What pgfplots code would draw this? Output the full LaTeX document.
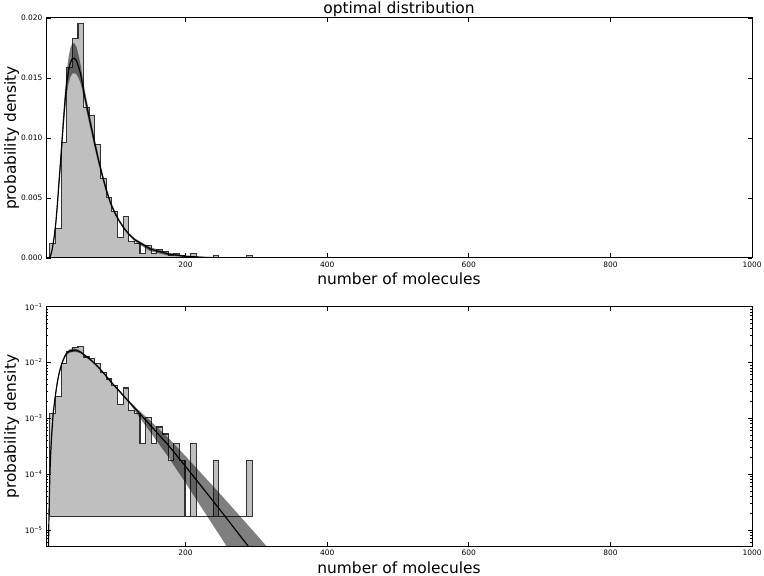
\documentclass[border=0pt]{standalone}
\usepackage{fontspec}
\setmainfont{DejaVu Sans}
\usepackage{pgfplots}
\pgfplotsset{compat=1.18}
\usepackage{pgfplotstable}
\definecolor{histgray}{HTML}{BFBFBF}

% histogram: left edges and densities (linear axis / log axis with bottom 1.745e-5)
\pgfplotstableread{
x lin lg
8.5 0 1.745e-5
8.5 1.2215e-3 1.2215e-3
16.45 2.443e-3 2.443e-3
24.4 9.5975e-3 9.5975e-3
32.35 1.58795e-2 1.58795e-2
40.3 1.83225e-2 1.83225e-2
48.25 1.9544e-2 1.9544e-2
56.2 1.2564e-2 1.2564e-2
64.15 1.1866e-2 1.1866e-2
72.1 9.423e-3 9.423e-3
80.05 6.631e-3 6.631e-3
88.0 5.0605e-3 5.0605e-3
95.95 3.839e-3 3.839e-3
103.9 1.745e-3 1.745e-3
111.85 3.49e-3 3.49e-3
119.8 1.396e-3 1.396e-3
127.75 1.2215e-3 1.2215e-3
135.7 3.49e-4 3.49e-4
143.65 1.047e-3 1.047e-3
151.6 3.49e-4 3.49e-4
159.55 6.98e-4 6.98e-4
167.5 5.235e-4 5.235e-4
175.45 1.745e-4 1.745e-4
183.4 3.49e-4 3.49e-4
191.35 1.745e-4 1.745e-4
199.3 0 1.745e-5
207.25 3.49e-4 3.49e-4
215.2 0 1.745e-5
223.15 0 1.745e-5
231.1 0 1.745e-5
239.05 1.745e-4 1.745e-4
247.0 0 1.745e-5
254.95 0 1.745e-5
262.9 0 1.745e-5
270.85 0 1.745e-5
278.8 0 1.745e-5
286.75 1.745e-4 1.745e-4
294.7 1.745e-4 1.745e-4
294.7 0 1.745e-5
}\hist

% fitted density
\pgfplotstableread{
x y
5.5 1.0e-6
6.5 5.0e-6
7.5 3.0e-5
8.5 1.0e-4
9.5 2.2e-4
11 5.0e-4
13 1.15e-3
15 1.95e-3
17 3.0e-3
19 4.4e-3
21 6.0e-3
23 7.6e-3
25 9.2e-3
27.5 1.13e-2
30 1.32e-2
32.5 1.47e-2
35 1.57e-2
37.5 1.63e-2
40 1.66e-2
43 1.665e-2
46 1.645e-2
49 1.595e-2
52 1.53e-2
56 1.40e-2
60 1.28e-2
64 1.17e-2
68 1.06e-2
72 9.5e-3
77 8.2e-3
82 7.0e-3
88 5.7e-3
94 4.6e-3
100 3.79e-3
106 3.13e-3
113 2.49e-3
120 1.99e-3
128 1.54e-3
150 7.57e-4
175 3.38e-4
200 1.38e-4
225 5.50e-5
250 2.188e-5
275 8.51e-6
300 3.31e-6
325 1.259e-6
}\fit

% confidence band as a closed outline: upper bound forward, lower bound back
\pgfplotstableread{
x y
5.5 1.08e-6
6.5 5.4e-6
7.5 3.24e-5
8.5 1.08e-4
9.5 2.38e-4
11 5.4e-4
13 1.24e-3
15 2.11e-3
17 3.24e-3
19 4.75e-3
21 6.48e-3
23 8.06e-3
25 9.75e-3
27.5 1.198e-2
30 1.399e-2
32.5 1.566e-2
35 1.680e-2
37.5 1.752e-2
40 1.785e-2
43 1.790e-2
46 1.760e-2
49 1.691e-2
52 1.607e-2
56 1.456e-2
60 1.331e-2
64 1.217e-2
68 1.102e-2
72 9.88e-3
77 8.53e-3
82 7.28e-3
88 5.93e-3
94 4.78e-3
100 3.94e-3
106 3.26e-3
113 2.59e-3
120 2.08e-3
128 1.643e-3
150 9.02e-4
175 4.56e-4
200 2.10e-4
225 9.47e-5
250 4.27e-5
275 1.879e-5
300 8.28e-6
325 3.56e-6
325 2.32e-7
300 7.46e-7
275 2.34e-6
250 7.37e-6
225 2.265e-5
200 6.96e-5
175 2.089e-4
150 5.72e-4
128 1.386e-3
120 1.90e-3
113 2.39e-3
106 3.00e-3
100 3.64e-3
94 4.42e-3
88 5.47e-3
82 6.72e-3
77 7.87e-3
72 9.12e-3
68 1.018e-2
64 1.123e-2
60 1.229e-2
56 1.344e-2
52 1.454e-2
49 1.499e-2
46 1.530e-2
43 1.540e-2
40 1.536e-2
37.5 1.508e-2
35 1.460e-2
32.5 1.374e-2
30 1.241e-2
27.5 1.062e-2
25 8.65e-3
23 7.14e-3
21 5.52e-3
19 4.05e-3
17 2.76e-3
15 1.79e-3
13 1.06e-3
11 4.6e-4
9.5 2.02e-4
8.5 0.92e-4
7.5 2.76e-5
6.5 4.6e-6
5.5 0.92e-6
}\band

\pgfplotsset{
  mpl/.style={
    anchor=south west,
    scale only axis,
    width=706bp, height=240bp,
    xmin=3, xmax=1000,
    axis on top,
    axis line style={black, line width=1pt},
    tick align=inside,
    tick pos=both,
    major tick length=4.5bp,
    minor tick length=2.2bp,
    every tick/.style={black, line width=0.8pt},
    tick label style={font=\fontsize{7.5}{9}\selectfont},
    xtick={200,400,600,800,1000},
    xticklabels={200,400,600,800,1000},
    xlabel={number of molecules},
    ylabel={probability density},
    label style={font=\fontsize{15.5}{18}\selectfont},
    xlabel style={at={(axis description cs:0.5,-0.111)}, anchor=base},
    ylabel style={at={(axis description cs:-0.0425,0.5)}, anchor=base},
  }
}

\begin{document}
\begin{tikzpicture}
\path[use as bounding box] (0,0) rectangle (764bp,576bp);

% ---------- top: linear ----------
\begin{axis}[mpl,
  at={(46bp,318bp)},
  ymin=0, ymax=0.02,
  scaled y ticks=false,
  ytick={0,0.005,0.01,0.015,0.02},
  yticklabels={0.000,0.005,0.010,0.015,0.020},
  title={optimal distribution},
  title style={font=\fontsize{15.5}{18}\selectfont, at={(axis description cs:0.5,1.0167)}, anchor=base, yshift=-6pt},
]
\addplot[const plot mark left, fill=histgray, draw=black!80, line width=1.1pt]
  table[x=x, y=lin]{\hist};
\addplot[fill=black, fill opacity=0.5, draw=none] table[x=x, y=y]{\band};
\addplot[black, line width=1.2pt] table[x=x, y=y]{\fit};
\end{axis}

% ---------- bottom: log ----------
\begin{axis}[mpl,
  at={(46bp,29.3bp)},
  ymode=log,
  ymin=5e-6, ymax=0.1,
  ytick={1e-5,1e-4,1e-3,1e-2,1e-1},
  yticklabels={10\textsuperscript{−5},10\textsuperscript{−4},10\textsuperscript{−3},10\textsuperscript{−2},10\textsuperscript{−1}},
  minor ytick={6e-6,7e-6,8e-6,9e-6,2e-5,3e-5,4e-5,5e-5,6e-5,7e-5,8e-5,9e-5,2e-4,3e-4,4e-4,5e-4,6e-4,7e-4,8e-4,9e-4,2e-3,3e-3,4e-3,5e-3,6e-3,7e-3,8e-3,9e-3,2e-2,3e-2,4e-2,5e-2,6e-2,7e-2,8e-2,9e-2},
]
\addplot[const plot mark left, fill=histgray, draw=black!80, line width=1.1pt]
  table[x=x, y=lg]{\hist};
\addplot[black!80, line width=1.1pt] coordinates {(8.5,1.745e-5) (294.7,1.745e-5)};
\addplot[fill=black, fill opacity=0.5, draw=none] table[x=x, y=y]{\band};
\addplot[black, line width=1.2pt] table[x=x, y=y]{\fit};
\end{axis}
\end{tikzpicture}
\end{document}
